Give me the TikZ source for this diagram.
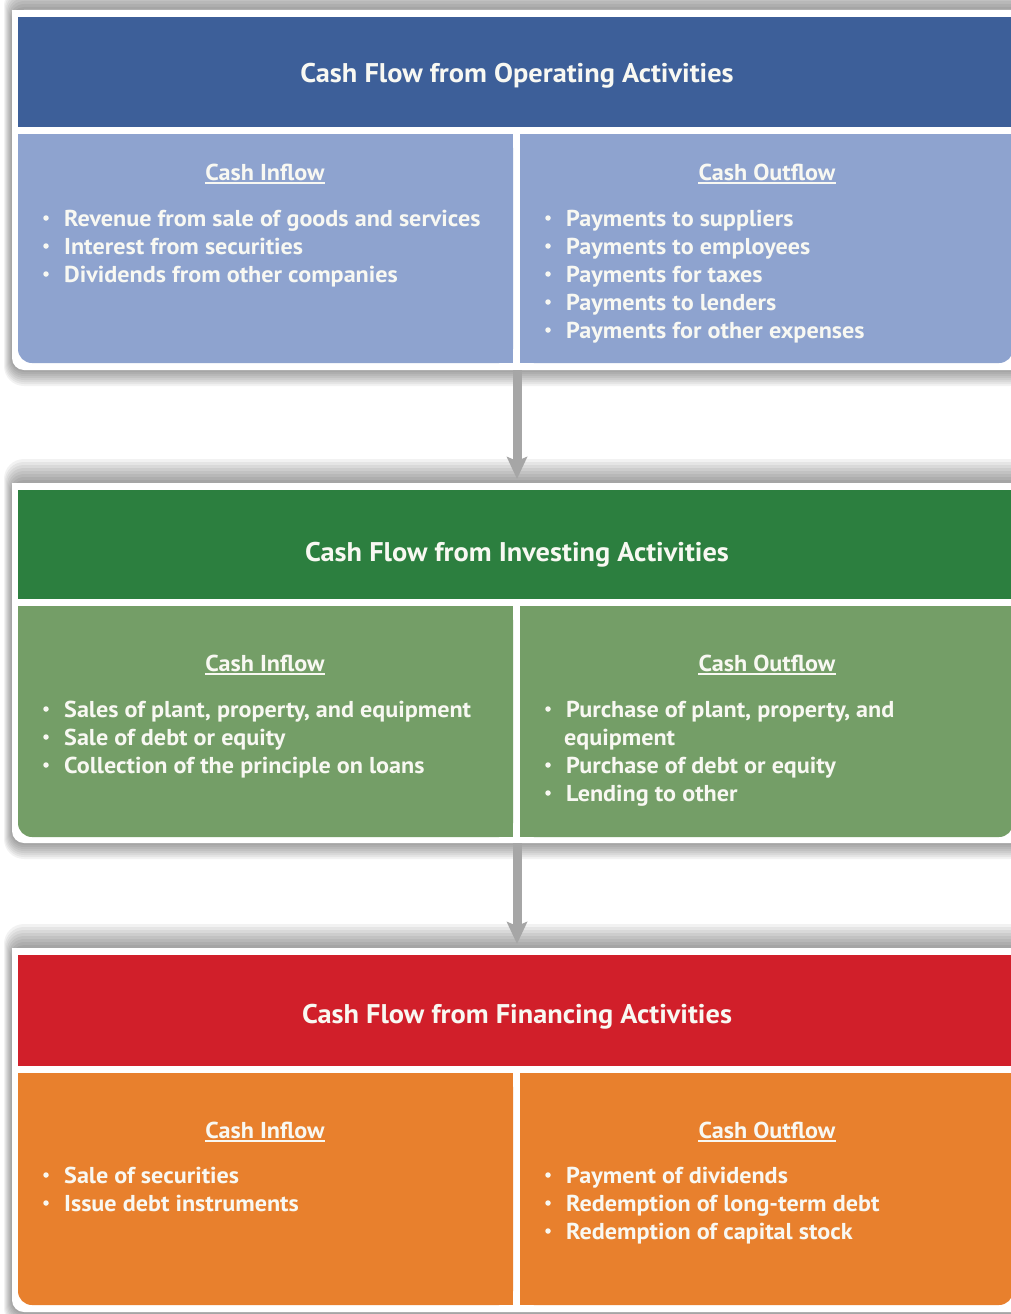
\documentclass[tikz,border=0pt]{standalone}
\usepackage{fontspec}
\setmainfont{PT Sans}[FakeStretch=1.05]
\usetikzlibrary{arrows.meta}
\definecolor{opHead}{RGB}{61,95,153}
\definecolor{opPanel}{RGB}{142,163,207}
\definecolor{invHead}{RGB}{44,127,63}
\definecolor{invPanel}{RGB}{116,158,103}
\definecolor{finHead}{RGB}{209,31,42}
\definecolor{finPanel}{RGB}{232,128,45}
\definecolor{txt}{RGB}{248,248,242}
\definecolor{arrowgray}{RGB}{166,166,166}
\tikzset{
  titletext/.style={font=\bfseries\fontsize{27}{32}\selectfont, text=txt, anchor=base, inner sep=0pt},
  headtext/.style={font=\bfseries\fontsize{23}{27}\selectfont, text=txt, anchor=base, inner sep=0pt},
  itemtext/.style={font=\bfseries\fontsize{23}{27}\selectfont, text=txt, anchor=base west, inner sep=0pt},
  bulletdot/.style={circle, fill=txt, minimum size=5.5pt, inner sep=0pt},
  underl/.style={draw=txt, line width=1.6pt},
  flow/.style={draw=arrowgray, line width=9pt, -{Stealth[length=22pt,width=20pt,inset=4pt]}}
}
% #1 outer top, #2 head bottom, #3 panel bottom, #4 outer bottom, #5 head colour, #6 panel colour
\newcommand{\flowbox}[6]{%
  \foreach \k in {1,...,8} {
    \fill[black, opacity=0.05, rounded corners={12+\k}] ({12-\k},{#1-3*\k}) rectangle (1030,{#4+2*\k});
  }
  \fill[white, rounded corners=12] (12,#1) rectangle (1030,#4);
  \fill[white] (12,#1) rectangle (1030,{#1+20});
  \fill[#5] (18,{#1+7}) rectangle (1030,#2);
  \fill[#6, rounded corners=14] (18,{#2+7}) rectangle (513,#3);
  \fill[#6] (18,{#2+7}) rectangle (513,{#3-20});
  \fill[#6] (490,{#2+7}) rectangle (513,#3);
  \fill[#6, rounded corners=14] (520,{#2+7}) rectangle (1013,#3);
  \fill[#6] (520,{#2+7}) rectangle (1013,{#3-20});
  \fill[#6] (520,{#2+7}) rectangle (545,#3);
}
\begin{document}
\begin{tikzpicture}[x=1pt,y=-1pt]
\useasboundingbox (0,0) rectangle (1011,1314);
\fill[white] (0,0) rectangle (1011,1314);

\flowbox{10}{127}{363}{370}{opHead}{opPanel}
\flowbox{483}{599}{837}{843}{invHead}{invPanel}
\flowbox{948}{1066}{1305}{1312}{finHead}{finPanel}

% ---------- Operating ----------
\node[titletext] (t1) at (517,82) {Cash Flow from Operating Activities};
\node[headtext] (h1l) at (265,180) {Cash Inflow};
\node[headtext] (h1r) at (767,180) {Cash Outflow};
\draw[underl] ([yshift=-3pt]h1l.base west) -- ([yshift=-3pt]h1l.base east);
\draw[underl] ([yshift=-3pt]h1r.base west) -- ([yshift=-3pt]h1r.base east);
\foreach \t [count=\i] in {Revenue from sale of goods and services, Interest from securities, Dividends from other companies} {
  \node[bulletdot] (d1l\i) at (46,{226+28*(\i-1)-8}) {};
  \node[itemtext] (i1l\i) at (64,{226+28*(\i-1)}) {\t};
}
\foreach \t [count=\i] in {Payments to suppliers, Payments to employees, Payments for taxes, Payments to lenders, Payments for other expenses} {
  \node[bulletdot] (d1r\i) at (548,{226+28*(\i-1)-8}) {};
  \node[itemtext] (i1r\i) at (566,{226+28*(\i-1)}) {\t};
}

% ---------- Investing ----------
\node[titletext] (t2) at (517,561) {Cash Flow from Investing Activities};
\node[headtext] (h2l) at (265,671) {Cash Inflow};
\node[headtext] (h2r) at (767,671) {Cash Outflow};
\draw[underl] ([yshift=-3pt]h2l.base west) -- ([yshift=-3pt]h2l.base east);
\draw[underl] ([yshift=-3pt]h2r.base west) -- ([yshift=-3pt]h2r.base east);
\foreach \t [count=\i] in {{Sales of plant, property, and equipment}, Sale of debt or equity, Collection of the principle on loans} {
  \node[bulletdot] (d2l\i) at (46,{717+28*(\i-1)-8}) {};
  \node[itemtext] (i2l\i) at (64,{717+28*(\i-1)}) {\t};
}
\node[bulletdot] (d2r1) at (548,709) {};
\node[itemtext] (i2r1) at (566,717) {Purchase of plant, property, and};
\node[itemtext] (i2r1b) at (564,745) {equipment};
\node[bulletdot] (d2r2) at (548,765) {};
\node[itemtext] (i2r2) at (566,773) {Purchase of debt or equity};
\node[bulletdot] (d2r3) at (548,793) {};
\node[itemtext] (i2r3) at (566,801) {Lending to other};

% ---------- Financing ----------
\node[titletext] (t3) at (517,1023) {Cash Flow from Financing Activities};
\node[headtext] (h3l) at (265,1138) {Cash Inflow};
\node[headtext] (h3r) at (767,1138) {Cash Outflow};
\draw[underl] ([yshift=-3pt]h3l.base west) -- ([yshift=-3pt]h3l.base east);
\draw[underl] ([yshift=-3pt]h3r.base west) -- ([yshift=-3pt]h3r.base east);
\foreach \t [count=\i] in {Sale of securities, Issue debt instruments} {
  \node[bulletdot] (d3l\i) at (46,{1183+28*(\i-1)-8}) {};
  \node[itemtext] (i3l\i) at (64,{1183+28*(\i-1)}) {\t};
}
\foreach \t [count=\i] in {Payment of dividends, Redemption of long-term debt, Redemption of capital stock} {
  \node[bulletdot] (d3r\i) at (548,{1183+28*(\i-1)-8}) {};
  \node[itemtext] (i3r\i) at (566,{1183+28*(\i-1)}) {\t};
}

% ---------- Arrows ----------
\coordinate (box1bottom) at (517,370);
\coordinate (box2top) at (517,479);
\coordinate (box2bottom) at (517,843);
\coordinate (box3top) at (517,944);
\draw[flow] (box1bottom) -- (box2top);
\draw[flow] (box2bottom) -- (box3top);
\end{tikzpicture}
\end{document}
